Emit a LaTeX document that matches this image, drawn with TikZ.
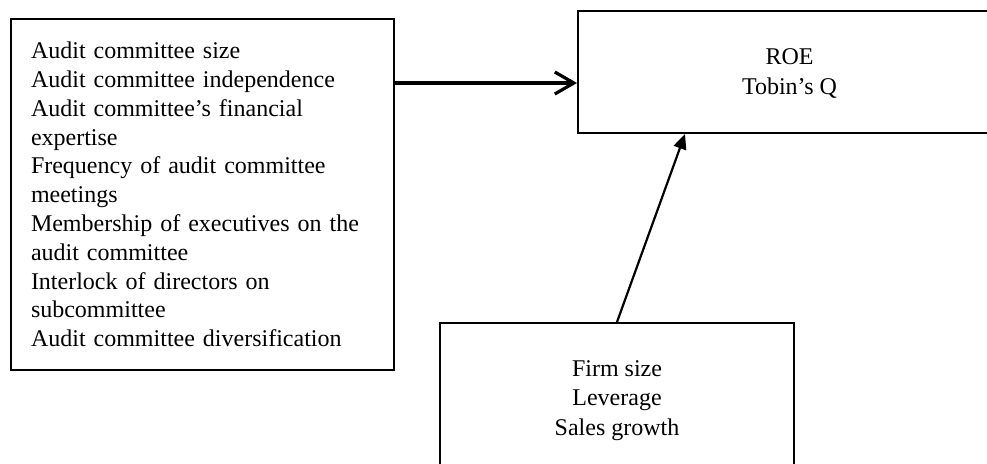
\documentclass[tikz,border=0pt]{standalone}
\usepackage{fontspec}
\setmainfont{Liberation Serif}
\usetikzlibrary{arrows.meta,calc}
\tikzset{
  boxnode/.style={draw, line width=2pt, rectangle, inner sep=0pt, font=\fontsize{24}{29}\selectfont},
  mainarrow/.style={line width=3.2pt, -{Straight Barb[length=19pt,width=22pt]}},
  ctrlarrow/.style={line width=2.2pt, -{Triangle[length=15pt,width=13pt]}}
}
\begin{document}
\begin{tikzpicture}[x=1pt,y=-1pt]
\useasboundingbox (0,0) rectangle (987,463);
\clip (0,0) rectangle (987,463);
\node[boxnode, minimum width=383pt, minimum height=351pt, text width=343pt, align=left,
      font=\fontsize{24}{28.8}\selectfont] (ac) at (202.5,194.5)
  {Audit committee size\\
   Audit committee independence\\
   Audit committee’s financial\\
   expertise\\
   Frequency of audit committee\\
   meetings\\
   Membership of executives on the\\
   audit committee\\
   Interlock of directors on\\
   subcommittee\\
   Audit committee diversification};
\node[boxnode, minimum width=423pt, minimum height=122pt, align=center, text depth=0pt,
      font=\fontsize{24}{30}\selectfont] (roe) at (789.5,72)
  {ROE\\Tobin’s Q};
\node[boxnode, minimum width=354pt, minimum height=150pt, align=center, text depth=0pt,
      font=\fontsize{24}{29.5}\selectfont] (ctrl) at (617,398)
  {Firm size\\Leverage\\Sales growth};
\coordinate (arrowend) at ($(roe.west)+(0,11)$);
\draw[mainarrow] (ac.east |- arrowend) -- (arrowend);
\coordinate (ctrlend) at ($(roe.south west)+(108,0)$);
\draw[ctrlarrow] (ctrl.north) -- (ctrlend);
\end{tikzpicture}
\end{document}
